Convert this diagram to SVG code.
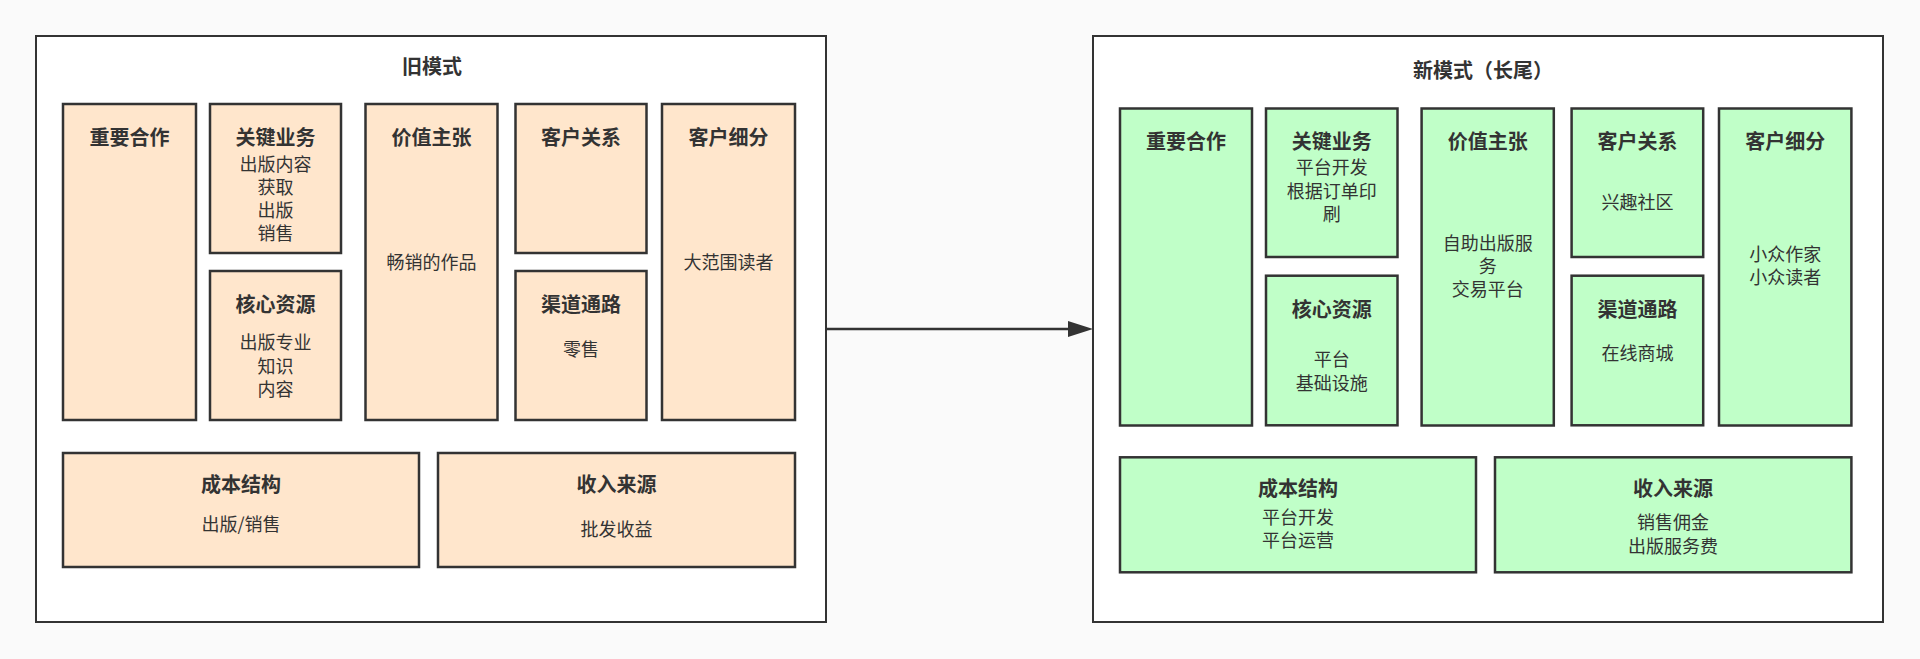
<svg xmlns="http://www.w3.org/2000/svg" width="1920" height="659" viewBox="0 0 1920 659">
<style>
text{font-family:"Noto Sans CJK SC","Noto Sans",sans-serif;fill:#333;text-anchor:middle;dominant-baseline:central;font-size:18px}
.t{font-weight:bold;font-size:20px}
.f{fill:#fff;stroke:#333;stroke-width:2}
.o{fill:#ffe6cc;stroke:#333;stroke-width:2.5}
.g{fill:#c0ffc8;stroke:#333;stroke-width:2.5}
</style>
<rect width="1920" height="659" fill="#fafafa"/>
<g id="old">
<rect class="f" x="36" y="36" width="790" height="586"/>
<text class="t" x="432" y="65">旧模式</text>
</g>
<g id="old-partners"><rect class="o" x="63" y="104" width="133" height="316"/><text class="t" x="129.5" y="136.6">重要合作</text></g>
<g id="old-activities"><rect class="o" x="210" y="104" width="131" height="149"/><text class="t" x="275.5" y="136.6">关键业务</text><text x="275.5" y="162.6">出版内容</text><text x="275.5" y="185.8">获取</text><text x="275.5" y="209">出版</text><text x="275.5" y="232">销售</text></g>
<g id="old-resources"><rect class="o" x="210" y="271" width="131" height="149"/><text class="t" x="275.5" y="303.5">核心资源</text><text x="275.5" y="341">出版专业</text><text x="275.5" y="364.5">知识</text><text x="275.5" y="387.5">内容</text></g>
<g id="old-value"><rect class="o" x="365.5" y="104" width="132" height="316"/><text class="t" x="431.5" y="136.6">价值主张</text><text x="431.5" y="260.6">畅销的作品</text></g>
<g id="old-relations"><rect class="o" x="515.5" y="104" width="131" height="149"/><text class="t" x="581" y="136.6">客户关系</text></g>
<g id="old-channels"><rect class="o" x="515.5" y="271" width="131" height="149"/><text class="t" x="581" y="303.5">渠道通路</text><text x="581" y="348">零售</text></g>
<g id="old-segments"><rect class="o" x="662" y="104" width="133" height="316"/><text class="t" x="728.5" y="136.6">客户细分</text><text x="728.5" y="260.6">大范围读者</text></g>
<g id="old-cost"><rect class="o" x="63" y="453" width="356" height="114"/><text class="t" x="241" y="483">成本结构</text><text x="241" y="523">出版/销售</text></g>
<g id="old-revenue"><rect class="o" x="438" y="453" width="357" height="114"/><text class="t" x="616.5" y="483">收入来源</text><text x="616.5" y="527.5">批发收益</text></g>
<g id="new">
<rect class="f" x="1093" y="36" width="790" height="586"/>
<text class="t" x="1483" y="69">新模式（长尾）</text>
</g>
<g id="new-partners"><rect class="g" x="1120" y="108.5" width="132" height="317"/><text class="t" x="1186" y="140.8">重要合作</text></g>
<g id="new-activities"><rect class="g" x="1266" y="108.5" width="131.5" height="148.5"/><text class="t" x="1331.8" y="140.8">关键业务</text><text x="1331.8" y="166.4">平台开发</text><text x="1331.8" y="189.6">根据订单印</text><text x="1331.8" y="212.7">刷</text></g>
<g id="new-resources"><rect class="g" x="1266" y="275.7" width="131.5" height="149.6"/><text class="t" x="1331.8" y="308">核心资源</text><text x="1331.8" y="358">平台</text><text x="1331.8" y="381.6">基础设施</text></g>
<g id="new-value"><rect class="g" x="1421.6" y="108.5" width="132.2" height="317"/><text class="t" x="1487.7" y="140.8">价值主张</text><text x="1487.7" y="241.7">自助出版服</text><text x="1487.7" y="264.8">务</text><text x="1487.7" y="288.3">交易平台</text></g>
<g id="new-relations"><rect class="g" x="1571.6" y="108.5" width="131.6" height="148.5"/><text class="t" x="1637.4" y="140.8">客户关系</text><text x="1637.4" y="201">兴趣社区</text></g>
<g id="new-channels"><rect class="g" x="1571.6" y="275.7" width="131.6" height="149.6"/><text class="t" x="1637.4" y="308">渠道通路</text><text x="1637.4" y="352">在线商城</text></g>
<g id="new-segments"><rect class="g" x="1719" y="108.5" width="132.4" height="317"/><text class="t" x="1785.2" y="140.8">客户细分</text><text x="1785.2" y="252.6">小众作家</text><text x="1785.2" y="275.7">小众读者</text></g>
<g id="new-cost"><rect class="g" x="1120" y="457.3" width="356" height="115"/><text class="t" x="1298" y="487.5">成本结构</text><text x="1298" y="516">平台开发</text><text x="1298" y="539">平台运营</text></g>
<g id="new-revenue"><rect class="g" x="1495" y="457.3" width="356.4" height="115"/><text class="t" x="1673" y="487.5">收入来源</text><text x="1673" y="521">销售佣金</text><text x="1673" y="544.7">出版服务费</text></g>
<g id="connectors">
<line x1="826" y1="329" x2="1075" y2="329" stroke="#333" stroke-width="2.5"/>
<path d="M1068,321L1093,329L1068,337Z" fill="#333"/>
</g>
</svg>
